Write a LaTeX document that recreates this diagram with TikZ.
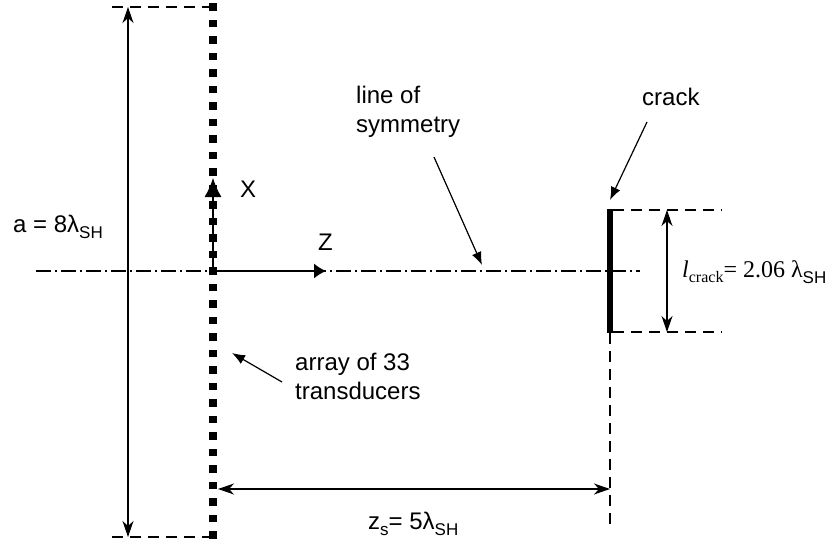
\documentclass[tikz,border=0pt]{standalone}
\usepackage{fontspec}
\setmainfont{Liberation Sans}
\newfontfamily\serifff{Liberation Serif}
\usetikzlibrary{arrows.meta}
\newcommand\mysub[1]{\raisebox{-6pt}{\fontsize{17}{17}\selectfont #1}}
\begin{document}
\begin{tikzpicture}[x=1pt,y=-1pt,
  dimline/.style={line width=1.2pt, {Stealth[length=16pt,width=11pt,inset=5pt]}-{Stealth[length=16pt,width=11pt,inset=5pt]}},
  leader/.style={line width=1.2pt, -{Latex[length=13pt,width=10pt]}},
  dashline/.style={line width=1.1pt, dash pattern=on 11pt off 7pt},
  dashdot/.style={line width=1.1pt, dash pattern=on 15pt off 4pt on 2pt off 4pt},
  sq/.style={fill=black, minimum size=7.5pt, inner sep=0pt, outer sep=0pt},
  lbl/.style={inner sep=0pt, anchor=base west, font=\fontsize{24}{30}\selectfont},
]
\useasboundingbox (0,0) rectangle (831,544);

% key points
\coordinate (O) at (213,271);
\coordinate (xtip) at (213,178);
\coordinate (ztip) at (326,271);
\coordinate (symL) at (36,271);
\coordinate (symR) at (640,271);
\coordinate (crT) at (610,209);
\coordinate (crB) at (610,333);
\coordinate (crTd) at (613,210);
\coordinate (crTR) at (722,210);
\coordinate (crBd) at (613,332);
\coordinate (crBR) at (722,332);
\coordinate (lcT) at (667,210);
\coordinate (lcB) at (667,332);
\coordinate (vdB) at (610,528);
\coordinate (zsL) at (218,489);
\coordinate (zsR) at (610,489);
\coordinate (aT) at (128,7);
\coordinate (aB) at (128,537);
\coordinate (aTL) at (112,7);
\coordinate (aTR) at (213,7);
\coordinate (aBL) at (112,537);
\coordinate (aBR) at (213,537);

% line of symmetry
\draw[dashdot] (symL) -- (symR);

% transducer array
\foreach \i in {0,...,32} {
  \node[sq] (t\i) at (213,{7+16.5*\i}) {};
}

% axes
\draw[line width=1.2pt, -{Latex[length=19pt,width=17pt]}] (O) -- (xtip);
\draw[line width=1.2pt, -{Latex[length=12pt,width=15pt]}] (O) -- (ztip);
\node[lbl] (xl) at (240,197) {X};
\node[lbl] (zl) at (318,250) {Z};

% left dimension
\draw[dashline] (aTL) -- (aTR);
\draw[dashline] (aBL) -- (aBR);
\draw[dimline] (aB) -- (aT);
\node[lbl] (al) at (13,232) {a = 8λ\mysub{SH}};

% crack
\draw[line width=6pt] (crT) -- (crB);
\draw[dashline] (crTd) -- (crTR);
\draw[dashline] (crBd) -- (crBR);
\draw[dimline] (lcB) -- (lcT);
\draw[dashline] (crB) -- (vdB);
\node[lbl] (lcl) at (682,277) {{\serifff\itshape l}\raisebox{-5pt}{\serifff\fontsize{16}{16}\selectfont crack}{\serifff= 2.06 λ}\mysub{SH}};

% bottom dimension
\draw[dimline] (zsL) -- (zsR);
\node[lbl] (zsl) at (368,529) {z\mysub{s}= 5λ\mysub{SH}};

% labels with leaders
\node[lbl] (sym1) at (356,103) {line of};
\node[lbl] (sym2) at (356,132) {symmetry};
\coordinate (symA) at (434,157);
\coordinate (symB) at (482,265);
\draw[leader] (symA) -- (symB);

\node[lbl] (crl) at (642,105) {crack};
\coordinate (crA) at (647,122);
\coordinate (crBtip) at (610,200);
\draw[leader] (crA) -- (crBtip);

\node[lbl] (ar1) at (295,370) {array of 33};
\node[lbl] (ar2) at (295,399) {transducers};
\coordinate (arA) at (282,382);
\coordinate (arB) at (232,353);
\draw[leader] (arA) -- (arB);
\end{tikzpicture}
\end{document}
